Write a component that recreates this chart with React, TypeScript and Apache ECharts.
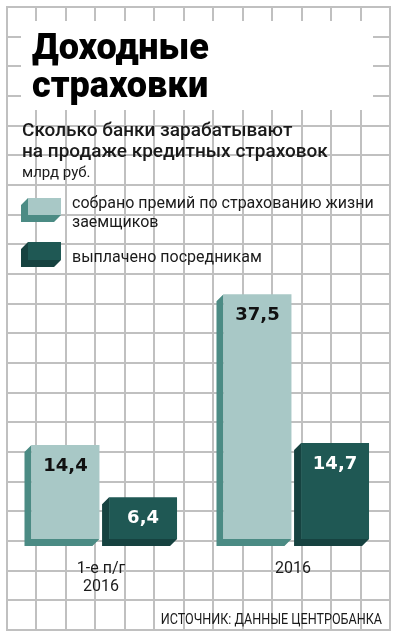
import React, { useEffect, useRef } from "react";
import * as echarts from "echarts";

const categories = ["1-е п/г\n2016", "2016"];
const premiums = [14.4, 37.5];
const payouts = [6.4, 14.7];
const seriesNames = ["собрано премий по страхованию жизни\nзаемщиков", "выплачено посредникам"];
const titleText = "Доходные\nстраховки";
const subtitleText = "Сколько банки зарабатывают\nна продаже кредитных страховок";
const unitText = "млрд руб.";
const sourceText = "ИСТОЧНИК: ДАННЫЕ ЦЕНТРОБАНКА";

const LIGHT_FRONT = "#a8c8c6";
const LIGHT_SIDE = "#4b8b84";
const DARK_FRONT = "#1f5854";
const DARK_SIDE = "#164240";
const GRID_COLOR = "#c0c0c0";
const TEXT = "#1a1a1a";
const FONT = "Roboto, 'Noto Sans', sans-serif";

function makeRender(offsetFrac: number, front: string, side: string, labelColor: string) {
  return (params: any, api: any) => {
    const ci = api.value(0);
    const val = api.value(1);
    const base = api.coord([ci, 0]);
    const top = api.coord([ci, val]);
    const band = api.size([1, 0])[0];
    const w = band * 0.354;
    const cx = base[0] + band * offsetFrac;
    const x0 = cx - w / 2;
    const x1 = cx + w / 2;
    const y0 = top[1];
    const y1 = base[1];
    const d = 7;
    return {
      type: "group",
      children: [
        {
          type: "polygon",
          shape: { points: [[x0, y0], [x0 - d, y0 + d], [x0 - d, y1 + d], [x1 - d, y1 + d], [x1, y1], [x0, y1]] },
          style: { fill: side },
        },
        { type: "rect", shape: { x: x0, y: y0, width: w, height: y1 - y0 }, style: { fill: front } },
        {
          type: "text",
          x: cx,
          y: y0 + 19,
          style: {
            text: String(val).replace(".", ","),
            fill: labelColor,
            font: "bold 18px 'DejaVu Sans', sans-serif",
            align: "center",
            verticalAlign: "middle",
          },
        },
      ],
    };
  };
}

function swatch(x: number, y: number, w: number, h: number, front: string, side: string) {
  const d = 7;
  return [
    {
      type: "polygon",
      z: 30,
      shape: { points: [[x, y], [x - d, y + d], [x - d, y + h + d], [x + w - d, y + h + d], [x + w, y + h], [x, y + h]] },
      style: { fill: side },
    },
    { type: "rect", z: 31, shape: { x, y, width: w, height: h }, style: { fill: front } },
  ];
}

export default function App() {
  const ref = useRef<HTMLDivElement>(null);
  useEffect(() => {
    if (!ref.current) return;
    const chart = echarts.init(ref.current, null, { renderer: "svg" });

    const graphics: any[] = [];
    // decorative background grid
    const gx0 = 6, gx1 = 389, gy0 = 6, gy1 = 629;
    for (let i = 0; i <= 13; i++) {
      const x = Math.round(gx0 + ((gx1 - gx0) * i) / 13);
      graphics.push({ type: "rect", z: 5, shape: { x, y: gy0, width: 2, height: gy1 - gy0 + 2 }, style: { fill: GRID_COLOR } });
    }
    for (let j = 0; j <= 21; j++) {
      const y = Math.round(gy0 + ((gy1 - gy0) * j) / 21);
      graphics.push({ type: "rect", z: 5, shape: { x: gx0, y, width: gx1 - gx0 + 2, height: 2 }, style: { fill: GRID_COLOR } });
    }
    graphics.push({ type: "rect", z: 20, shape: { x: 21, y: 21, width: 352, height: 89 }, style: { fill: "#ffffff" } });
    graphics.push({
      type: "text", z: 25, x: 32, y: 66,
      style: { text: titleText, fill: "#000", font: `900 36px ${FONT}`, lineHeight: 38, verticalAlign: "middle" },
    });
    graphics.push({
      type: "text", z: 25, x: 22, y: 140,
      style: { text: subtitleText, fill: TEXT, font: `500 19px ${FONT}`, lineHeight: 21, verticalAlign: "middle" },
    });
    graphics.push({
      type: "text", z: 25, x: 22, y: 172,
      style: { text: unitText, fill: TEXT, font: `15px ${FONT}`, verticalAlign: "middle" },
    });
    graphics.push(...swatch(28, 198, 33, 17, LIGHT_FRONT, LIGHT_SIDE));
    graphics.push(...swatch(28, 242, 33, 18, DARK_FRONT, DARK_SIDE));
    graphics.push({
      type: "text", z: 25, x: 72, y: 211.5,
      style: { text: seriesNames[0], fill: TEXT, font: `16px ${FONT}`, lineHeight: 19, verticalAlign: "middle" },
    });
    graphics.push({
      type: "text", z: 25, x: 72, y: 256,
      style: { text: seriesNames[1], fill: TEXT, font: `16px ${FONT}`, verticalAlign: "middle" },
    });
    graphics.push({
      type: "text", z: 25, x: 382, y: 619, scaleX: 0.9,
      style: {
        text: sourceText, fill: TEXT,
        font: `14px ${FONT}`,
        align: "right", verticalAlign: "middle",
      },
    });

    chart.setOption({
      animation: false,
      grid: { left: 5, width: 384, top: 278, bottom: 101 },
      xAxis: {
        type: "category",
        data: categories,
        axisLine: { show: false },
        axisTick: { show: false },
        axisLabel: { margin: 19, fontSize: 16, lineHeight: 18, color: TEXT, fontFamily: FONT },
        z: 30,
      },
      yAxis: { type: "value", min: 0, max: 40, show: false, splitLine: { show: false } },
      graphic: graphics,
      series: [
        {
          name: seriesNames[0],
          type: "custom",
          z: 40,
          renderItem: makeRender(-0.185, LIGHT_FRONT, LIGHT_SIDE, "#111111"),
          encode: { x: 0, y: 1 },
          data: premiums.map((v, i) => [i, v]),
        },
        {
          name: seriesNames[1],
          type: "custom",
          z: 40,
          renderItem: makeRender(0.219, DARK_FRONT, DARK_SIDE, "#ffffff"),
          encode: { x: 0, y: 1 },
          data: payouts.map((v, i) => [i, v]),
        },
      ],
    });
    return () => chart.dispose();
  }, []);
  return <div ref={ref} style={{ position: "fixed", left: 0, top: 0, width: 399, height: 640 }} />;
}
